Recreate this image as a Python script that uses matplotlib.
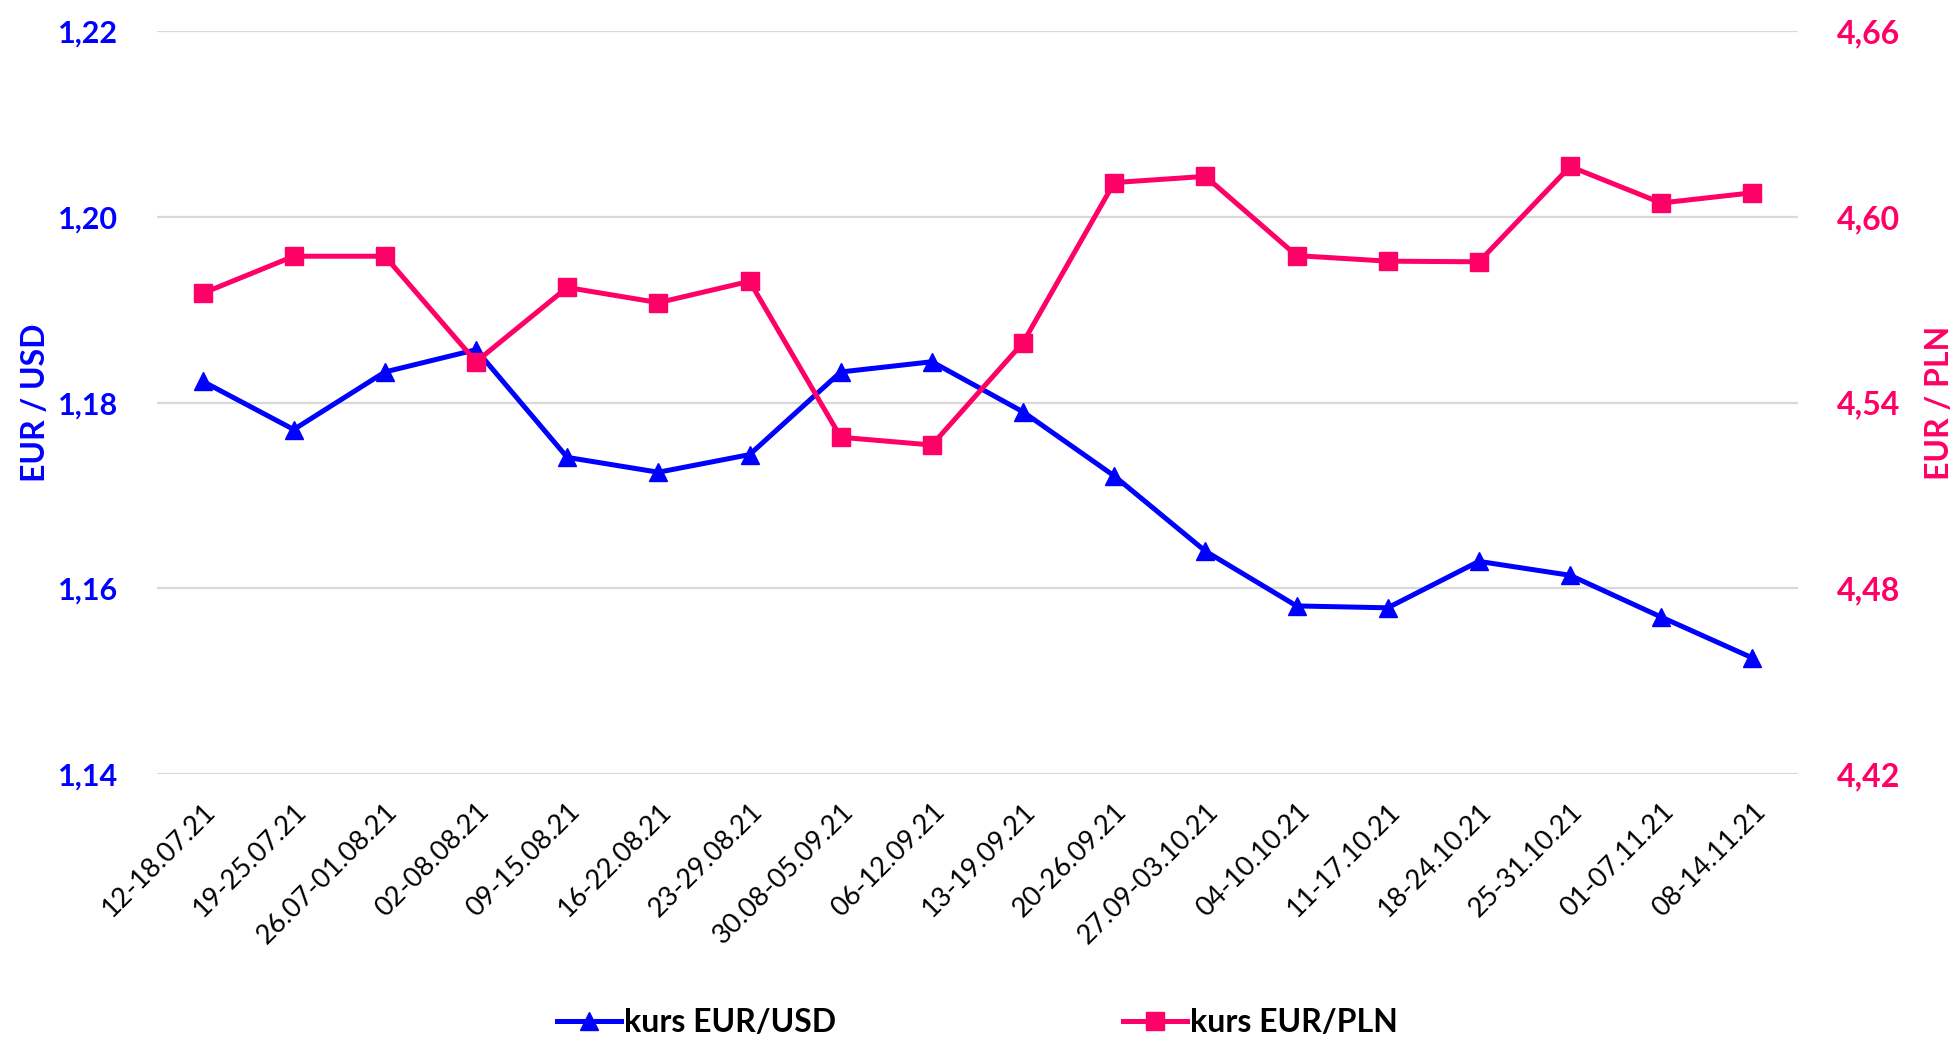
import matplotlib
matplotlib.use("Agg")
import matplotlib.pyplot as plt
from matplotlib.ticker import FixedLocator, FuncFormatter

categories = ["12-18.07.21", "19-25.07.21", "26.07-01.08.21", "02-08.08.21", "09-15.08.21",
              "16-22.08.21", "23-29.08.21", "30.08-05.09.21", "06-12.09.21", "13-19.09.21",
              "20-26.09.21", "27.09-03.10.21", "04-10.10.21", "11-17.10.21", "18-24.10.21",
              "25-31.10.21", "01-07.11.21", "08-14.11.21"]
eur_usd = [1.1823, 1.1771, 1.1833, 1.1857, 1.1741, 1.1725, 1.1744, 1.1833, 1.1844, 1.1790,
           1.1721, 1.1640, 1.1581, 1.1579, 1.1629, 1.1614, 1.1569, 1.1525]
eur_pln = [4.5753, 4.5873, 4.5873, 4.5532, 4.5772, 4.5723, 4.5792, 4.5288, 4.5263, 4.5594,
           4.6111, 4.6131, 4.5875, 4.5857, 4.5855, 4.6163, 4.6045, 4.6078]
left_ticks = [1.14, 1.16, 1.18, 1.20, 1.22]
right_ticks = [4.42, 4.48, 4.54, 4.60, 4.66]

BLUE = "#0000FF"
PINK = "#FF0066"
FONT = "Lato"

fig = plt.figure(figsize=(19.55, 10.41), dpi=100)
ax = fig.add_axes([0.0803, 0.2565, 0.8394, 0.7135])
ax2 = ax.twinx()

x = list(range(len(categories)))
l1, = ax.plot(x, eur_usd, color=BLUE, lw=3.6, marker="^", ms=13, label="kurs EUR/USD", zorder=3)
l2, = ax2.plot(x, eur_pln, color=PINK, lw=3.6, marker="s", ms=13, label="kurs EUR/PLN", zorder=3)

ax.set_xlim(-0.5, len(categories) - 0.5)
ax.set_ylim(1.14, 1.22)
ax2.set_ylim(4.42, 4.66)
ax.yaxis.set_major_locator(FixedLocator(left_ticks))
ax2.yaxis.set_major_locator(FixedLocator(right_ticks))
ax.yaxis.set_major_formatter(FuncFormatter(lambda v, p: f"{v:.2f}".replace(".", ",")))
ax2.yaxis.set_major_formatter(FuncFormatter(lambda v, p: f"{v:.2f}".replace(".", ",")))

ax.grid(axis="y", color="#D9D9D9", lw=1.6)
ax.set_axisbelow(True)
for a in (ax, ax2):
    for s in a.spines.values():
        s.set_visible(False)
    a.tick_params(length=0)

ax.tick_params(axis="y", labelcolor=BLUE, pad=28)
ax2.tick_params(axis="y", labelcolor=PINK, pad=28)
for lab in ax.get_yticklabels():
    lab.set_fontfamily(FONT); lab.set_fontweight("bold"); lab.set_fontsize(22)
for lab in ax2.get_yticklabels():
    lab.set_fontfamily(FONT); lab.set_fontweight("bold"); lab.set_fontsize(23)

ax.set_xticks(x)
ax.set_xticklabels(categories, rotation=45, ha="right", rotation_mode="anchor",
                   fontsize=19.5, fontfamily=FONT)
ax.tick_params(axis="x", pad=18)

ax.set_ylabel("EUR / USD", color=BLUE, fontsize=23, fontweight="bold", fontfamily=FONT, labelpad=6)
ax2.set_ylabel("EUR / PLN", color=PINK, fontsize=23, fontweight="bold", fontfamily=FONT, labelpad=18)

leg = fig.legend(handles=[l1, l2], loc="lower center", bbox_to_anchor=(0.5, -0.024), ncol=2,
                 frameon=False, handlelength=2.0, handletextpad=0.1, columnspacing=9.0,
                 prop={"family": FONT, "weight": "bold", "size": 23})

fig.savefig("out.png", dpi=100)
